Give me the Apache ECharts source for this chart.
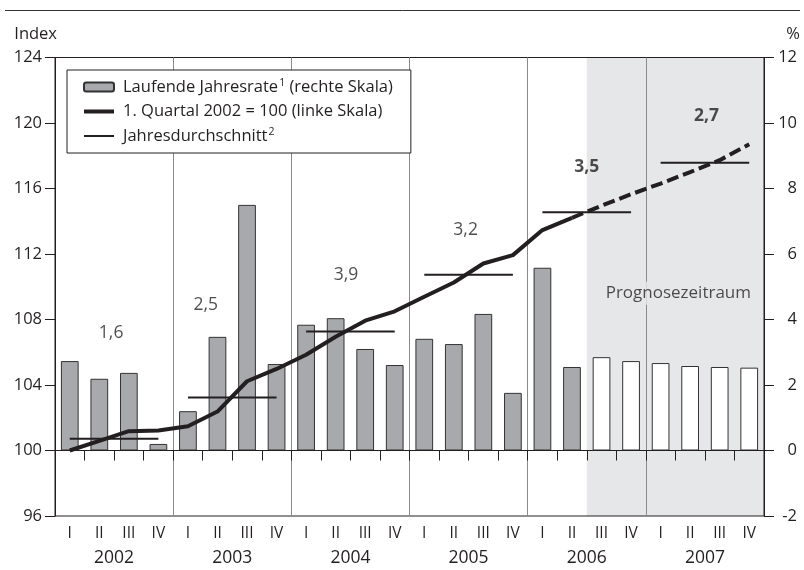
<!DOCTYPE html>
<html>
<head>
<meta charset="utf-8">
<script src="https://cdn.jsdelivr.net/npm/echarts@6/dist/echarts.min.js"></script>
<style>
html,body{margin:0;padding:0;background:#fff;}
#c{width:804px;height:570px;}
</style>
</head>
<body>
<div id="c"></div>
<script>
const quarterLabels = ['I', 'II', 'III', 'IV'];
const years = ['2002', '2003', '2004', '2005', '2006', '2007'];
// Laufende Jahresrate in % (rechte Skala)
const rate = [2.73, 2.19, 2.37, 0.20, 1.20, 3.47, 7.50, 2.64, 3.84, 4.04, 3.10, 2.61,
              3.41, 3.25, 4.17, 1.76, 5.58, 2.55, 2.85, 2.73, 2.67, 2.58, 2.55, 2.53];
// Index, 1. Quartal 2002 = 100 (linke Skala), actual part
const indexActual = [100.0, 100.59, 101.18, 101.22, 101.48, 102.38, 104.23, 104.98,
                     105.85, 106.95, 107.93, 108.50, 109.39, 110.26, 111.42, 111.93,
                     113.46, 114.21];
// forecast part (starts at last actual quarter)
const indexForecast = [114.21, 114.95, 115.65, 116.30, 117.00, 117.73, 118.70];
// Jahresdurchschnitt (index level)
const yearAvg = [100.71, 103.23, 107.26, 110.73, 114.55, 117.58];
// Jahresdurchschnittliche Veränderung in %
const yearRateText = ['1,6', '2,5', '3,9', '3,2', '3,5', '2,7'];
// annotation anchors (quarter position, index level)
const yearRateAnchor = [[1.9, 107.17], [5.1, 108.87], [9.85, 110.70], [13.9, 113.46], [18.0, 117.33], [22.05, 120.43]];
const forecastYears = ['2006', '2007'];
const forecastStart = 18;      // first forecast quarter (2006 III)
const forecastLabel = 'Prognosezeitraum';
const forecastLabelAnchor = [21.1, 109.6];

const FONT = 'Open Sans';
const TXT = '#231f20';
const nQ = years.length * quarterLabels.length;
const categories = [];
years.forEach(y => quarterLabels.forEach(q => categories.push(y + ' ' + q)));

const barData = rate.map((v, i) => i >= forecastStart
  ? { value: v, itemStyle: { color: '#ffffff' } } : v);

const forecastData = categories.map((c, i) => {
  const k = i - (indexActual.length - 1);
  return k >= 0 && k < indexForecast.length ? indexForecast[k] : '-';
});

const avgData = [];
yearAvg.forEach((v, y) => {
  avgData.push([y * 4 + 0.5, v]);
  avgData.push([y * 4 + 3.5, v]);
  avgData.push(['-', '-']);
});

const labelData = yearRateText.map((t, i) => ({
  value: yearRateAnchor[i],
  label: {
    formatter: t,
    fontWeight: forecastYears.includes(years[i]) ? 'bold' : 'normal'
  }
}));
labelData.push({
  value: forecastLabelAnchor,
  label: {
    formatter: forecastLabel, fontSize: 17,
    backgroundColor: '#e6e7e8', padding: [3, 2]
  }
});

const legendNames = {
  rate: '{t|Laufende Jahresrate}{s|1}{t| (rechte Skala)}',
  index: '{t|1. Quartal 2002 = 100 (linke Skala)}',
  avg: '{t|Jahresdurchschnitt}{s|2}'
};

const chart = echarts.init(document.getElementById('c'), null, { renderer: 'canvas' });
chart.setOption({
  animation: false,
  textStyle: { fontFamily: FONT, color: TXT },
  graphic: [{
    type: 'line', z: 10,
    shape: { x1: 5, y1: 10.5, x2: 800, y2: 10.5 },
    style: { stroke: '#333', lineWidth: 1 }
  }],
  grid: {
    left: 55, right: 40, top: 57.5, bottom: 54,
    show: true, borderColor: '#231f20', borderWidth: 1, z: 2
  },
  legend: {
    orient: 'vertical', left: 67, top: 70,
    data: [
      { name: 'rate' },
      { name: 'index', icon: 'path://M0,0H30V4H0Z' },
      { name: 'avg', icon: 'path://M0,0H30V2H0Z' }
    ],
    symbolKeepAspect: true,
    itemWidth: 30, itemHeight: 9, itemGap: 7,
    padding: [8, 18, 8, 16],
    backgroundColor: '#fff', borderColor: '#231f20', borderWidth: 1,
    formatter: n => legendNames[n],
    textStyle: {
      fontFamily: FONT, color: TXT, padding: [0, 0, 0, 4],
      rich: {
        t: { fontFamily: FONT, fontSize: 16.5, color: TXT, lineHeight: 18 },
        s: { fontFamily: FONT, fontSize: 10.5, color: TXT, lineHeight: 18, verticalAlign: 'top', padding: [0, 0, 7, 1] }
      }
    },
    z: 10
  },
  xAxis: [{
    type: 'category', data: categories, position: 'bottom', z: 2,
    axisLine: { show: true, lineStyle: { color: '#231f20', width: 1 } },
    axisTick: { show: true, interval: 0, length: 10, lineStyle: { color: '#231f20' } },
    axisLabel: {
      interval: 0, margin: 10, fontSize: 15.5, color: TXT, fontFamily: FONT,
      formatter: v => v.split(' ')[1]
    },
    splitLine: { show: false }
  }, {
    type: 'category', data: years, position: 'bottom', z: 2,
    axisLine: { show: false }, axisTick: { show: false },
    axisLabel: { margin: 33, fontSize: 17.5, color: TXT, fontFamily: FONT },
    splitLine: { show: true, lineStyle: { color: '#8a8a8a', width: 1 } }
  }, {
    type: 'value', min: 0, max: nQ, show: false
  }],
  yAxis: [{
    type: 'value', min: 96, max: 124, interval: 4, position: 'left', z: 2,
    name: 'Index', nameLocation: 'end', nameGap: 15,
    nameTextStyle: { align: 'right', fontSize: 16.5, color: TXT, fontFamily: FONT, padding: [0, -2, 0, 0] },
    axisLine: { show: true, lineStyle: { color: '#231f20' } },
    axisTick: { show: true, length: 10, lineStyle: { color: '#231f20' } },
    axisLabel: { margin: 13, fontSize: 16.5, color: TXT, fontFamily: FONT },
    splitLine: { show: false }
  }, {
    type: 'value', min: -2, max: 12, interval: 2, position: 'right', z: 2,
    name: '%', nameLocation: 'end', nameGap: 15,
    nameTextStyle: { align: 'right', fontSize: 16.5, color: TXT, fontFamily: FONT, padding: [0, -36, 0, 0] },
    axisLine: { show: true, lineStyle: { color: '#231f20' } },
    axisTick: { show: true, length: 10, lineStyle: { color: '#231f20' } },
    axisLabel: { margin: 33, align: 'right', fontSize: 16.5, color: TXT, fontFamily: FONT },
    splitLine: { show: false }
  }],
  series: [{
    type: 'line', name: 'shade', xAxisIndex: 2, yAxisIndex: 0, z: 1,
    data: [], silent: true,
    markArea: {
      silent: true,
      itemStyle: { color: '#e6e7e8' },
      data: [[{ xAxis: forecastStart, yAxis: 96 }, { xAxis: nQ, yAxis: 124 }]]
    }
  }, {
    type: 'bar', name: 'rate', xAxisIndex: 0, yAxisIndex: 1, z: 3,
    data: barData, barWidth: '60%',
    itemStyle: { color: '#a7a9ac', borderColor: '#333', borderWidth: 1 },
    markLine: {
      silent: true, symbol: 'none', label: { show: false },
      lineStyle: { color: '#231f20', width: 1, type: 'solid' },
      data: [{ yAxis: 0 }]
    }
  }, {
    type: 'line', name: 'avg', xAxisIndex: 2, yAxisIndex: 0, z: 4,
    data: avgData, symbol: 'none', connectNulls: false,
    lineStyle: { color: '#231f20', width: 2 }, itemStyle: { color: '#231f20' }
  }, {
    type: 'line', name: 'index', xAxisIndex: 0, yAxisIndex: 0, z: 5,
    data: indexActual, symbol: 'none',
    lineStyle: { color: '#231f20', width: 4, join: 'round' }, itemStyle: { color: '#231f20' }
  }, {
    type: 'line', name: 'indexForecast', xAxisIndex: 0, yAxisIndex: 0, z: 5,
    data: forecastData, symbol: 'none',
    lineStyle: { color: '#231f20', width: 4, type: [12, 5] }, itemStyle: { color: '#231f20' }
  }, {
    type: 'scatter', name: 'labels', xAxisIndex: 2, yAxisIndex: 0, z: 6,
    data: labelData, symbolSize: 0, silent: true,
    label: { show: true, position: 'inside', fontSize: 17.5, color: TXT, fontFamily: FONT }
  }]
});
</script>
</body>
</html>
